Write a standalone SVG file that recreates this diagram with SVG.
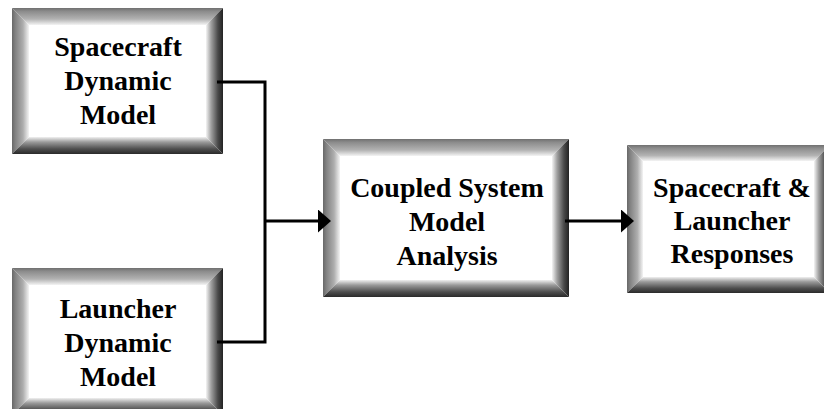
<svg xmlns="http://www.w3.org/2000/svg" width="824" height="409" viewBox="0 0 824 409">
  <defs>
    <style>
      .lbl { font-family: 'Liberation Serif', serif; font-weight: 700; font-size: 28px; fill: #000; text-anchor: middle; }
      .face { fill: #ffffff; }
      .bt { fill: url(#bevTop); }
      .bl { fill: url(#bevLeft); }
      .br { fill: url(#bevRight); }
      .bb { fill: url(#bevBottom); }
      .wire { fill: none; stroke: #000; stroke-width: 3; }
    </style>
    <!-- bevel shading: light source from the upper left -->
    <linearGradient id="bevTop" x1="0" y1="0" x2="0" y2="1">
      <stop offset="0" stop-color="#707070"/>
      <stop offset="0.2" stop-color="#8c8c8c"/>
      <stop offset="0.65" stop-color="#b2b2b2"/>
      <stop offset="1" stop-color="#f4f4f4"/>
    </linearGradient>
    <linearGradient id="bevLeft" x1="0" y1="0" x2="1" y2="0">
      <stop offset="0" stop-color="#686868"/>
      <stop offset="0.2" stop-color="#828282"/>
      <stop offset="0.65" stop-color="#aeaeae"/>
      <stop offset="1" stop-color="#f4f4f4"/>
    </linearGradient>
    <linearGradient id="bevRight" x1="0" y1="0" x2="1" y2="0">
      <stop offset="0" stop-color="#f4f4f4"/>
      <stop offset="0.3" stop-color="#a0a0a0"/>
      <stop offset="0.7" stop-color="#4a4a4a"/>
      <stop offset="1" stop-color="#222222"/>
    </linearGradient>
    <linearGradient id="bevBottom" x1="0" y1="0" x2="0" y2="1">
      <stop offset="0" stop-color="#f0f0f0"/>
      <stop offset="0.3" stop-color="#9a9a9a"/>
      <stop offset="0.7" stop-color="#4e4e4e"/>
      <stop offset="1" stop-color="#2a2a2a"/>
    </linearGradient>
    <marker id="arrow" markerUnits="userSpaceOnUse" markerWidth="14" markerHeight="24" refX="6" refY="11.5" orient="auto">
      <path d="M0,0 L13,11.5 L0,23 Z" fill="#000"/>
    </marker>
  </defs>

  <rect width="824" height="409" fill="#ffffff"/>

  <!-- Spacecraft Dynamic Model: x 12..223, y 8..154, bevel 17 -->
  <g id="spacecraft-model">
    <rect class="face" x="12" y="8" width="211" height="146"/>
    <polygon class="bt" points="12,8 223,8 206,25 29,25"/>
    <polygon class="bl" points="12,8 29,25 29,137 12,154"/>
    <polygon class="br" points="206,25 223,8 223,154 206,137"/>
    <polygon class="bb" points="29,137 206,137 223,154 12,154"/>
    <text class="lbl" font-family="Liberation Serif" x="118" y="56">Spacecraft</text>
    <text class="lbl" font-family="Liberation Serif" x="118" y="90">Dynamic</text>
    <text class="lbl" font-family="Liberation Serif" x="118" y="124">Model</text>
  </g>

  <!-- Launcher Dynamic Model: x 12..223, y 268..415 (runs past the lower edge) -->
  <g id="launcher-model">
    <rect class="face" x="12" y="268" width="211" height="147"/>
    <polygon class="bt" points="12,268 223,268 206,285 29,285"/>
    <polygon class="bl" points="12,268 29,285 29,398 12,415"/>
    <polygon class="br" points="206,285 223,268 223,415 206,398"/>
    <polygon class="bb" points="29,398 206,398 223,415 12,415"/>
    <text class="lbl" font-family="Liberation Serif" x="118" y="318">Launcher</text>
    <text class="lbl" font-family="Liberation Serif" x="118" y="352">Dynamic</text>
    <text class="lbl" font-family="Liberation Serif" x="118" y="386">Model</text>
  </g>

  <!-- Coupled System Model Analysis: x 323..569, y 139..297 -->
  <g id="coupled-analysis">
    <rect class="face" x="323" y="139" width="246" height="158"/>
    <polygon class="bt" points="323,139 569,139 552,156 340,156"/>
    <polygon class="bl" points="323,139 340,156 340,280 323,297"/>
    <polygon class="br" points="552,156 569,139 569,297 552,280"/>
    <polygon class="bb" points="340,280 552,280 569,297 323,297"/>
    <text class="lbl" font-family="Liberation Serif" x="447" y="197">Coupled System</text>
    <text class="lbl" font-family="Liberation Serif" x="447" y="231">Model</text>
    <text class="lbl" font-family="Liberation Serif" x="447" y="265">Analysis</text>
  </g>

  <!-- Spacecraft & Launcher Responses: x 627..830, y 145..293 (runs past the right edge) -->
  <g id="responses">
    <rect class="face" x="627" y="145" width="203" height="148"/>
    <polygon class="bt" points="627,145 830,145 814,161 643,161"/>
    <polygon class="bl" points="627,145 643,161 643,277 627,293"/>
    <polygon class="br" points="814,161 830,145 830,293 814,277"/>
    <polygon class="bb" points="643,277 814,277 830,293 627,293"/>
    <text class="lbl" font-family="Liberation Serif" x="732" y="197">Spacecraft &amp;</text>
    <text class="lbl" font-family="Liberation Serif" x="732" y="230">Launcher</text>
    <text class="lbl" font-family="Liberation Serif" x="732" y="263">Responses</text>
  </g>

  <g id="connectors">
    <polyline class="wire" points="217,82 265,82 265,342 217,342"/>
    <line class="wire" x1="265" y1="221" x2="324" y2="221" marker-end="url(#arrow)"/>
    <line class="wire" x1="565" y1="221" x2="627" y2="221" marker-end="url(#arrow)"/>
  </g>
</svg>
